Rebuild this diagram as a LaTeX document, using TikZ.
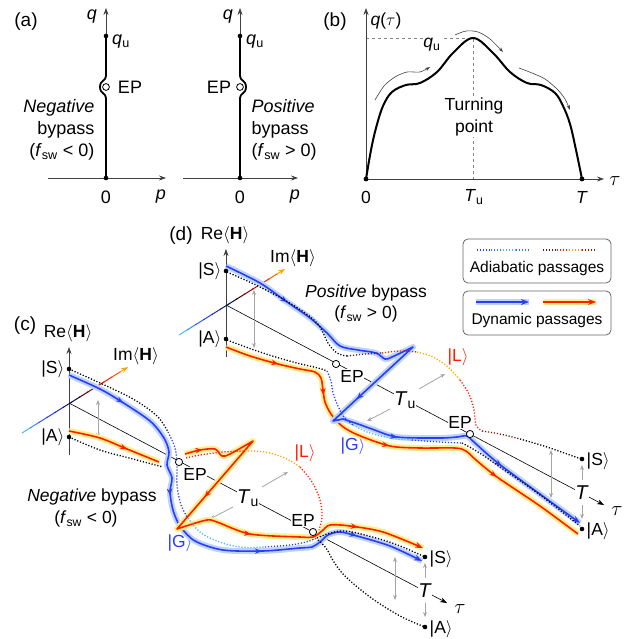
\documentclass[tikz,border=0pt]{standalone}
\usepackage{fontspec}
\setmainfont{Liberation Sans}
\usetikzlibrary{calc,arrows.meta,decorations.markings}
\definecolor{bl}{RGB}{40,60,250}
\definecolor{blg}{RGB}{190,212,255}
\definecolor{cy}{RGB}{70,185,255}
\definecolor{rd}{RGB}{255,30,0}
\definecolor{rdg}{RGB}{255,238,140}
\definecolor{og}{RGB}{255,165,0}
\definecolor{dr}{RGB}{110,20,20}
\definecolor{gr}{RGB}{165,165,165}
\tikzset{
  lbl/.style={font=\fontsize{17.5}{22}\selectfont, inner sep=0.5pt},
  lbla/.style={font=\fontsize{18}{22}\selectfont, inner sep=0.5pt},
  lblg/.style={font=\fontsize{15.5}{20}\selectfont, inner sep=0.5pt},
  plab/.style={font=\fontsize{19}{22}\selectfont, inner sep=0pt},
  tl/.style={font=\fontsize{20}{22}\selectfont, inner sep=0.5pt},
  axk/.style={draw=black!75, line width=0.7pt, -{Stealth[length=7pt,width=5pt]}},
  garrow/.style={draw=gr, line width=0.8pt},
  gtip/.style={-{Stealth[length=5pt,width=4pt]}},
  gboth/.style={{Stealth[length=5pt,width=4pt]}-{Stealth[length=5pt,width=4pt]}},
  thk/.style={line width=1.8pt, line join=round},
  epc/.style={draw=black, fill=white, line width=0.8pt},
  adi/.style={line width=1.3pt, dash pattern=on 1.2pt off 1.8pt},
  bdyn/.style={draw=bl, line width=1.6pt, line join=round, preaction={draw=blg, line width=6pt, line join=round, -}},
  rdyn/.style={draw=rd, line width=1.6pt, line join=round, preaction={draw=rdg, line width=6pt, line join=round, -}},
  arrat/.style={postaction={decorate,decoration={markings,mark=at position #1 with {\arrow{Stealth[length=7pt,width=5.5pt]}}}}},
  tipb/.style={-{Stealth[length=8pt,width=6pt]}},
}
% common frame of panels (c) and (d), in (c) coordinates
\newcommand\cdbase{%
  \draw[axk] (69,455) -- (69,347);
  \coordinate (imA) at (22,433);
  \coordinate (imB) at (128,367);
  \foreach \c [count=\i] in {cy,cy!60!bl,cy!25!bl,bl,bl!75!black,bl!45!black,black!80!bl,black!70!red,red!55!black,red!75!black,rd,rd!55!og}{%
    \draw[line width=1pt,\c] ($(imA)!{(\i-1)/13}!(imB)$) -- ($(imA)!{\i/13+0.01}!(imB)$);}
  \draw[line width=1pt,og,-{Stealth[length=7pt,width=5pt]}] ($(imA)!{12/13}!(imB)$) -- (imB);
  \draw[line width=0.6pt,-{Stealth[length=7pt,width=5pt]}] (69,403) -- (447,603);
  \draw[garrow,gtip] (262,487) -- (288,472);
  \draw[garrow,gtip] (233,507) -- (210,519);
  \draw[garrow,gtip] (425,578) -- (425,563);
  \draw[garrow,gtip] (425,603) -- (425,617);
  \node[lbl] at (68,333) {Re$\langle$\textbf{H}$\rangle$};
  \node[lbl] at (136,356) {Im$\langle$\textbf{H}$\rangle$};
  \node[lbl,anchor=east] at (65,369) {|S$\rangle$};
  \node[lbl,anchor=east] at (65,437) {|A$\rangle$};
  \node[lbl,anchor=west] at (429,559) {|S$\rangle$};
  \node[lbl,anchor=west] at (429,629) {|A$\rangle$};
  \node[lbl,fill=white] at (195,474) {EP};
  \node[tl,fill=white] at (248,498) {\textit{T}\textsubscript{u}};
  \node[lbl,fill=white] at (303,520) {EP};
  \node[tl,fill=white] at (425,591) {\textit{T}};
  \node[tl] at (460,609) {$\tau$};
}
\newcommand\cdtop{%
  \fill (69,369) circle (2.3pt);
  \fill (69,437) circle (2.3pt);
  \fill (425,557) circle (2.3pt);
  \fill (425,627) circle (2.3pt);
  \draw[epc] (179,462) circle (3.6pt);
  \draw[epc] (313,532) circle (3.6pt);
}
\begin{document}
\begin{tikzpicture}[x=1pt,y=-1pt]
\useasboundingbox (0,0) rectangle (627,639);
% ================= (a) =================
\node[plab] at (26,22) {(a)};
\draw[axk] (48,178) -- (166,178);
\draw[axk] (106,36) -- (106,8);
\draw[thk] (106,36) -- (106,76) .. controls (106,81) and (100,80) .. (100,87) .. controls (100,94) and (106,93) .. (106,98) -- (106,178);
\draw[epc] (106,87) circle (3.4pt);
\fill (106,36) circle (2.3pt);
\fill (106,178) circle (2.3pt);
\node[lbla] at (92,17) {\textit{q}};
\node[lbla] at (121,42) {\textit{q}\textsubscript{u}};
\node[lbla] at (130,87) {EP};
\node[lbla,anchor=east,align=right] at (95,130) {\textit{Negative}\\bypass\\(\textit{f}\textsubscript{sw} < 0)};
\node[lbla] at (106,197) {0};
\node[lbla] at (161,197) {\textit{p}};
\draw[axk] (183,178) -- (298,178);
\draw[axk] (240,36) -- (240,8);
\draw[thk] (240,36) -- (240,76) .. controls (240,81) and (246,80) .. (246,87) .. controls (246,94) and (240,93) .. (240,98) -- (240,178);
\draw[epc] (240,87) circle (3.4pt);
\fill (240,36) circle (2.3pt);
\fill (240,178) circle (2.3pt);
\node[lbla] at (228,17) {\textit{q}};
\node[lbla] at (255,42) {\textit{q}\textsubscript{u}};
\node[lbla] at (219,87) {EP};
\node[lbla,anchor=west,align=left] at (251,130) {\textit{Positive}\\bypass\\(\textit{f}\textsubscript{sw} > 0)};
\node[lbla] at (240,197) {0};
\node[lbla] at (295,197) {\textit{p}};
% ================= (b) =================
\node[plab] at (335,22) {(b)};
\draw[gr!80!black,line width=0.8pt,dashed] (366,38) -- (473,38) -- (473,179);
\draw[axk] (366,179) -- (366,8);
\draw[axk] (366,179) -- (604,179);
\draw[line width=2pt] plot[smooth,tension=0.6] coordinates{(366,179)(371,150)(376,128)(383,106)(392,92)(406,85)(420,83)(437,72)(453,53)(473,38)(493,53)(510,72)(527,83)(541,85)(555,93)(563,106)(570,124)(576,150)(582,179)};
\fill (366,179) circle (2.4pt);
\fill (582,179) circle (2.4pt);
\draw[line width=0.6pt,black!75,-{Stealth[length=5pt,width=3.5pt]}] plot[smooth] coordinates{(375,100)(384,86)(395,77)(407,72)(420,72)(430,67)};
\draw[line width=0.6pt,black!75,-{Stealth[length=5pt,width=3.5pt]}] plot[smooth] coordinates{(455,35)(466,31)(478,32)(490,39)(503,52)};
\draw[line width=0.6pt,black!75,-{Stealth[length=5pt,width=3.5pt]}] plot[smooth] coordinates{(519,68)(532,73)(545,79)(557,89)(565,99)(570,110)};
\node[lbl,fill=white] at (432,45) {\textit{q}\textsubscript{u}};
\node[lbl,fill=white,align=center] at (474,117) {Turning\\point};
\node[lbl] at (386,21) {\textit{q}($\tau$)};
\node[lbl] at (366,197) {0};
\node[lbl] at (474,197) {\textit{T}\textsubscript{u}};
\node[lbl] at (582,197) {\textit{T}};
\node[tl] at (615,181) {$\tau$};
% ================= legend =================
\draw[rounded corners=5pt, draw=black!60, line width=0.8pt] (463,239) rectangle (611,283);
\draw[rounded corners=5pt, draw=black!60, line width=0.8pt] (463,291) rectangle (611,335);
\draw[adi,bl] (477,250) -- (491,250);
\draw[adi,bl!50!cy] (491,250) -- (503,250);
\draw[adi,cy] (503,250) -- (516,250);
\draw[adi,bl!60!cy] (516,250) -- (529,250);
\draw[adi,dr] (543,250) -- (557,250);
\draw[adi,rd] (557,250) -- (569,250);
\draw[adi,og] (569,250) -- (582,250);
\draw[adi,rd!70!black] (582,250) -- (596,250);
\node[lblg] at (537,268) {Adiabatic passages};
\draw[bdyn,tipb] (476,302) -- (529,302);
\draw[rdyn,tipb] (543,302) -- (596,302);
\node[lblg] at (537,320) {Dynamic passages};
% ================= (c) =================
\node[plab] at (25,326) {(c)};
\cdbase
\draw[garrow,gboth] (98,400) -- (98,438);
\draw[garrow,gboth] (395,557) -- (395,600);
\node[lbl,text=rd] at (305,453) {|L$\rangle$};
\node[lbl,text=bl] at (180,543) {|G$\rangle$};
\node[lbl] at (92,497) {\textit{Negative} bypass};
\node[lbl] at (86,519) {(\textit{f}\textsubscript{sw} < 0)};
% dynamic
\draw[bdyn,tipb,arrat=0.13,arrat=0.375,arrat=0.636,arrat=0.85] plot[smooth,tension=0.5] coordinates{(69,375)(100,389)(122,402)(150,421)(164,438)(169,452)(167,465)(172,478)(170,492)(173,510)(180,526)(195,541)(223,550)(263,551)(300,548)(312,547)(320,542)(328,535)(340,532)(357,536)(390,546)(422,561)};
\draw[rdyn,arrat=0.64] plot[smooth,tension=0.5] coordinates{(69,431)(100,438)(127,449)(159,462)};
\draw[rdyn,tipb,arrat=0.04,arrat=0.333,arrat=0.6,arrat=0.847] plot[smooth,tension=0.5] coordinates{(185,454)(200,450)(215,449)(222,456)(230,454)(253,441)} -- (177,529) -- plot[smooth,tension=0.5] coordinates{(186,526)(207,520)(217,522)(250,534)(300,537)(313,537)(322,531)(330,525)(350,526)(383,532)(423,548)};
% adiabatic
\draw[adi,black] plot[smooth,tension=0.6] coordinates{(69,369)(100,383)(133,399)(157,416)(168,432)};
\draw[adi,bl] plot[smooth,tension=0.6] coordinates{(168,432)(175,448)(177,465)(177,485)(181,505)(188,518)};
\draw[adi,cy] plot[smooth,tension=0.6] coordinates{(188,518)(200,532)(217,541)(240,547)(265,547)};
\draw[adi,bl] plot[smooth,tension=0.6] coordinates{(265,547)(290,545)(306,542)(317,538)};
\draw[adi,black] plot[smooth,tension=0.6] coordinates{(317,538)(330,533)(345,531)(365,535)(395,544)(425,557)};
\draw[adi,black] plot[smooth,tension=0.6] coordinates{(318,540)(326,548)(334,562)(345,576)(370,597)(400,616)(425,627)};
\draw[adi,black] plot[smooth,tension=0.6] coordinates{(69,437)(100,450)(133,459)(163,467)};
\draw[adi,rd] plot[smooth,tension=0.6] coordinates{(186,458)(200,455)(223,452)(245,451)};
\draw[adi,og] plot[smooth,tension=0.6] coordinates{(245,451)(265,452)(285,458)(300,467)};
\draw[adi,rd] plot[smooth,tension=0.6] coordinates{(300,467)(312,482)(320,500)(322,517)(319,530)};
\cdtop
% ================= (d) =================
\node[plab] at (181,236) {(d)};
\begin{scope}[shift={(157,-98)}]
\cdbase
\end{scope}
\draw[garrow,gboth] (254,290) -- (254,348);
\draw[garrow,gboth] (551,450) -- (551,498);
\node[lbl,text=rd] at (458,357) {|L$\rangle$};
\node[lbl,text=bl] at (353,446) {|G$\rangle$};
\node[lbl] at (366,293) {\textit{Positive} bypass};
\node[lbl] at (366,314) {(\textit{f}\textsubscript{sw} > 0)};
% dynamic
\draw[rdyn,arrat=0.13,arrat=0.28,arrat=0.488,arrat=0.765] plot[smooth,tension=0.5] coordinates{(226,347)(250,356)(278,364)(300,369)(315,372)(321,378)(323,390)(325,402)(331,414)(342,426)(358,435)(390,446)(420,448)(455,448)(466,451)(476,460)(497,477)(540,506)(578,534)};
\draw[bdyn,tipb,arrat=0.117,arrat=0.486,arrat=0.65,arrat=0.84] plot[smooth,tension=0.5] coordinates{(226,266)(260,283)(287,302)(310,318)(327,333)(340,346)(358,350)(376,353)(385,359)(392,357)(413,347)} -- (333,421) -- plot[smooth,tension=0.5] coordinates{(343,419)(358,424)(372,429)(397,437)(440,438)(457,437)(467,436)(475,443)(503,467)(580,523)};
% adiabatic
\draw[adi,black] plot[smooth,tension=0.6] coordinates{(227,272)(260,287)(293,305)(317,323)(328,343)(337,353)(347,356)};
\draw[adi,dr] plot[smooth,tension=0.6] coordinates{(347,356)(365,354)(382,353)};
\draw[adi,rd] plot[smooth,tension=0.6] coordinates{(382,353)(400,351)(417,352)};
\draw[adi,og] plot[smooth,tension=0.6] coordinates{(417,352)(433,357)(448,367)(460,380)};
\draw[adi,rd] plot[smooth,tension=0.6] coordinates{(460,380)(469,394)(474,410)(476,425)(482,431)};
\draw[adi,dr] plot[smooth,tension=0.6] coordinates{(482,431)(500,434)(520,439)};
\draw[adi,black] plot[smooth,tension=0.6] coordinates{(520,439)(547,447)(581,459)};
\draw[adi,black] plot[smooth,tension=0.6] coordinates{(227,340)(260,352)(293,362)(318,368)(327,371)};
\draw[adi,bl] plot[smooth,tension=0.6] coordinates{(327,371)(331,381)(333,393)(338,406)(344,417)(353,425)};
\draw[adi,cy] plot[smooth,tension=0.6] coordinates{(353,425)(367,432)(390,438)(412,440)};
\draw[adi,bl] plot[smooth,tension=0.6] coordinates{(412,440)(440,442)(462,443)};
\draw[adi,black] plot[smooth,tension=0.6] coordinates{(462,443)(478,452)(500,467)(540,495)(580,526)};
\begin{scope}[shift={(157,-98)}]
\cdtop
\end{scope}
\end{tikzpicture}
\end{document}
